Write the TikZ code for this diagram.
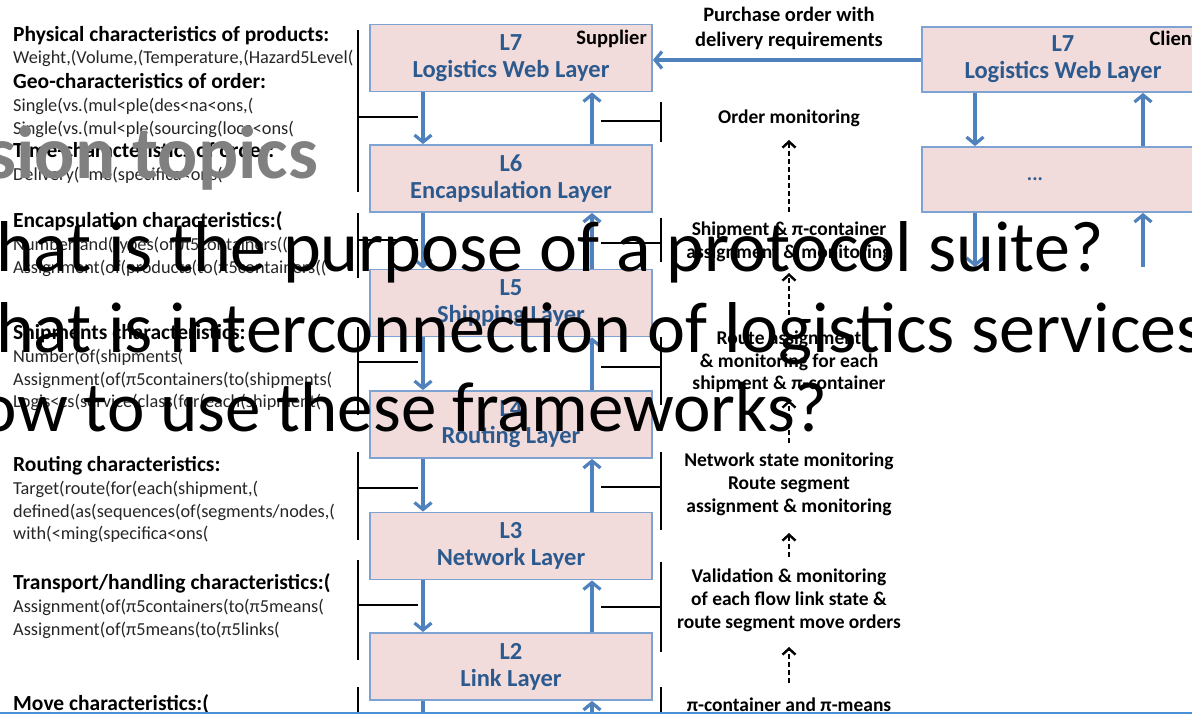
\documentclass[tikz,border=0pt]{standalone}
\usepackage{fontspec}
\setmainfont{Carlito}
\usetikzlibrary{arrows.meta}
\definecolor{boxfill}{HTML}{F2DCDB}
\definecolor{boxline}{HTML}{7EA3D2}
\definecolor{arrblue}{HTML}{4F81BD}
\definecolor{boxtext}{HTML}{2C5A8E}
\definecolor{lefttext}{HTML}{262626}
\definecolor{titlegray}{HTML}{808080}
\definecolor{slideblue}{HTML}{4A90D9}
\newcommand{\boxfont}{\fontsize{24.5}{27}\selectfont\bfseries}
\newcommand{\smallb}{\fontsize{21.5}{23}\selectfont\bfseries}
\newcommand{\smallr}{\fontsize{18.3}{23}\selectfont}
\newcommand{\rlabel}{\fontsize{19.5}{23}\selectfont\bfseries}
\newcommand{\bigtxt}{\fontsize{72}{80}\selectfont}
\begin{document}
\begin{tikzpicture}[x=1pt,y=-1pt,
  layer/.style={draw=boxline, line width=1.8pt, fill=boxfill, minimum width=282pt,
    minimum height=67pt, inner sep=0pt, align=center, text=boxtext, font=\boxfont},
  barrow/.style={draw=arrblue, line width=3.2pt, -{Straight Barb[length=7pt,width=17pt]}},
  bline/.style={draw=arrblue, line width=3.2pt},
  brk/.style={draw=black, line width=1.3pt},
  lt/.style={anchor=base west, inner sep=0pt, text=lefttext, font=\smallr},
  lh/.style={anchor=base west, inner sep=0pt, text=black, font=\smallb},
  rl/.style={anchor=base, inner sep=0pt, text=black, font=\rlabel},
  dar/.style={draw=black, line width=1.1pt, dash pattern=on 5pt off 3pt,
    -{Straight Barb[length=6pt,width=13pt,line width=2.4pt]}},
  big/.style={anchor=base west, inner sep=0pt, text=black, font=\bigtxt}]
\useasboundingbox (0,0) rectangle (1192,714);
\clip (0,0) rectangle (1192,714);

% column coordinates
\coordinate (dcol) at (423,0);
\coordinate (ucol) at (592,0);
\coordinate (cdcol) at (975,0);
\coordinate (cucol) at (1143,0);
\coordinate (bot) at (0,720);

% supplier stack
\node[layer] (L7) at (511,58) {L7\\Logistics Web Layer};
\node[layer] (L6) at (511,178.5) {L6\\Encapsulation Layer};
\node[layer] (L5) at (511,303) {L5\\Shipping Layer};
\node[layer] (L4) at (511,424.5) {L4\\Routing Layer};
\node[layer] (L3) at (511,546) {L3\\Network Layer};
\node[layer] (L2) at (511,666.5) {L2\\Link Layer};
\node[anchor=north east, inner sep=0pt, font=\fontsize{20.5}{22}\selectfont\bfseries] (sup) at (647,30) {Supplier};

% client stack
\node[layer, minimum height=65pt] (C7) at (1063,59.5) {L7\\Logistics Web Layer};
\node[layer, minimum height=65pt] (CD) at (1063,179.5) {};
\node[inner sep=0pt, text=boxtext, font=\fontsize{20}{22}\selectfont\bfseries] (dots) at (1035,179) {...};
\node[anchor=north east, inner sep=0pt, font=\fontsize{20.5}{22}\selectfont\bfseries] (cli) at (1199,31) {Client};

% vertical arrows supplier
\foreach \a/\b in {L7/L6,L6/L5,L5/L4,L4/L3,L3/L2}{
  \draw[barrow] (\a.south -| dcol) -- (\b.north -| dcol);
  \draw[barrow] (\b.north -| ucol) -- (\a.south -| ucol);
}
\draw[bline] (L2.south -| dcol) -- (dcol |- bot);
\draw[barrow] (ucol |- bot) -- (L2.south -| ucol);

% client arrows
\draw[barrow] (C7.south -| cdcol) -- (CD.north -| cdcol);
\draw[barrow] (CD.north -| cucol) -- (C7.south -| cucol);
\coordinate (cdend) at (975,267);
\coordinate (cuend) at (1143,267);
\draw[barrow] (CD.south -| cdcol) -- (cdend);
\draw[barrow] (cuend) -- (CD.south -| cucol);

% purchase order arrow
\draw[barrow] (C7.west |- 0,60) -- (L7.east |- 0,60);
\node[rl, font=\fontsize{20.5}{23}\selectfont\bfseries] (po1) at (789,22) {Purchase order with};
\node[rl, font=\fontsize{20.5}{23}\selectfont\bfseries] (po2) at (789,47) {delivery requirements};

% left brackets
\draw[brk] (358,30) -- (358,192) (358,117) -- (418,117);
\draw[brk] (358,213) -- (358,278) (358,240) -- (418,240);
\draw[brk] (358,327) -- (358,415) (358,362) -- (418,362);
\draw[brk] (358,452) -- (358,540) (358,488) -- (418,488);
\draw[brk] (358,560) -- (358,660) (358,605) -- (418,605);
\draw[brk] (358,687) -- (358,720);

% right brackets
\draw[brk] (661,102) -- (661,142) (601,121) -- (661,121);
\draw[brk] (661,218) -- (661,262) (601,243) -- (661,243);
\draw[brk] (661,337) -- (661,405) (601,367) -- (661,367);
\draw[brk] (661,452) -- (661,530) (601,487) -- (661,487);
\draw[brk] (661,562) -- (661,652) (601,607) -- (661,607);
\draw[brk] (661,687) -- (661,720);

% left texts
\node[lh] (t1) at (13,42) {Physical characteristics of products:};
\node[lt] (t2) at (13,64) {Weight,(Volume,(Temperature,(Hazard5Level(};
\node[lh] (t3) at (13,89) {Geo-characteristics of order:};
\node[lt] (t4) at (13,112) {Single(vs.(mul<ple(des<na<ons,(};
\node[lt] (t5) at (13,135) {Single(vs.(mul<ple(sourcing(loca<ons(};
\node[lh] (t6) at (13,158) {Time-characteristics of order:};
\node[lt] (t7) at (13,181) {Delivery(<me(specifica<ons(};
\node[lh] (t8) at (13,228) {Encapsulation characteristics:(};
\node[lt] (t9) at (13,251) {Number(and(types(of(π5containers((};
\node[lt] (t10) at (13,274) {Assignment(of(products(to(π5containers((};
\node[lh] (t11) at (13,339) {Shipments characteristics:};
\node[lt] (t12) at (13,362) {Number(of(shipments(};
\node[lt] (t13) at (13,385) {Assignment(of(π5containers(to(shipments(};
\node[lt] (t14) at (13,407) {Logis<cs(service(class(for(each(shipment(};
\node[lh] (t15) at (13,471) {Routing characteristics:};
\node[lt] (t16) at (13,494) {Target(route(for(each(shipment,(};
\node[lt] (t17) at (13,517) {defined(as(sequences(of(segments/nodes,(};
\node[lt] (t18) at (13,539) {with(<ming(specifica<ons(};
\node[lh] (t19) at (13,589) {Transport/handling characteristics:(};
\node[lt] (t20) at (13,612) {Assignment(of(π5containers(to(π5means(};
\node[lt] (t21) at (13,635) {Assignment(of(π5means(to(π5links(};
\node[lh] (t22) at (13,710) {Move characteristics:(};

% right labels
\node[rl] (r1) at (789,124) {Order monitoring};
\node[rl] (r2) at (789,236) {Shipment \& π-container};
\node[rl] (r3) at (789,259) {assignment \& monitoring};
\node[rl] (r4) at (789,344) {Route assignment};
\node[rl] (r5) at (789,367) {\& monitoring for each};
\node[rl] (r6) at (789,389) {shipment \& π-container};
\node[rl] (r7) at (789,466) {Network state monitoring};
\node[rl] (r8) at (789,489) {Route segment};
\node[rl] (r9) at (789,512) {assignment \& monitoring};
\node[rl] (r10) at (789,582) {Validation \& monitoring};
\node[rl] (r11) at (789,605) {of each flow link state \&};
\node[rl] (r12) at (789,628) {route segment move orders};
\node[rl] (r13) at (789,711) {π-container and π-means};

% dashed arrows
\coordinate (d1s) at (789,212); \coordinate (d1e) at (789,140);
\coordinate (d2s) at (789,323); \coordinate (d2e) at (789,273);
\coordinate (d3s) at (789,443); \coordinate (d3e) at (789,400);
\coordinate (d4s) at (789,557); \coordinate (d4e) at (789,533);
\coordinate (d5s) at (789,683); \coordinate (d5e) at (789,647);
\draw[dar] (d1s) -- (d1e);
\draw[dar] (d2s) -- (d2e);
\draw[dar] (d3s) -- (d3e);
\draw[dar] (d4s) -- (d4e);
\draw[dar] (d5s) -- (d5e);

% slide border line
\draw[slideblue, line width=2.5pt] (0,713) -- (1192,713);

% overlay slide text
\node[anchor=base east, inner sep=0pt, text=titlegray, font=\fontsize{75}{80}\selectfont\bfseries] (title) at (318,179) {Discussion topics};
\node[anchor=base east, inner sep=0pt, text=black, font=\bigtxt] (q1) at (1104,272) {What is the purpose of a protocol suite?};
\node[big] (q2) at (q1.base west |- 0,352) {What is interconnection of logistics services?};
\node[anchor=base east, inner sep=0pt, text=black, font=\fontsize{71}{80}\selectfont] (q3) at (828,431) {How to use these frameworks?};
\end{tikzpicture}
\end{document}
